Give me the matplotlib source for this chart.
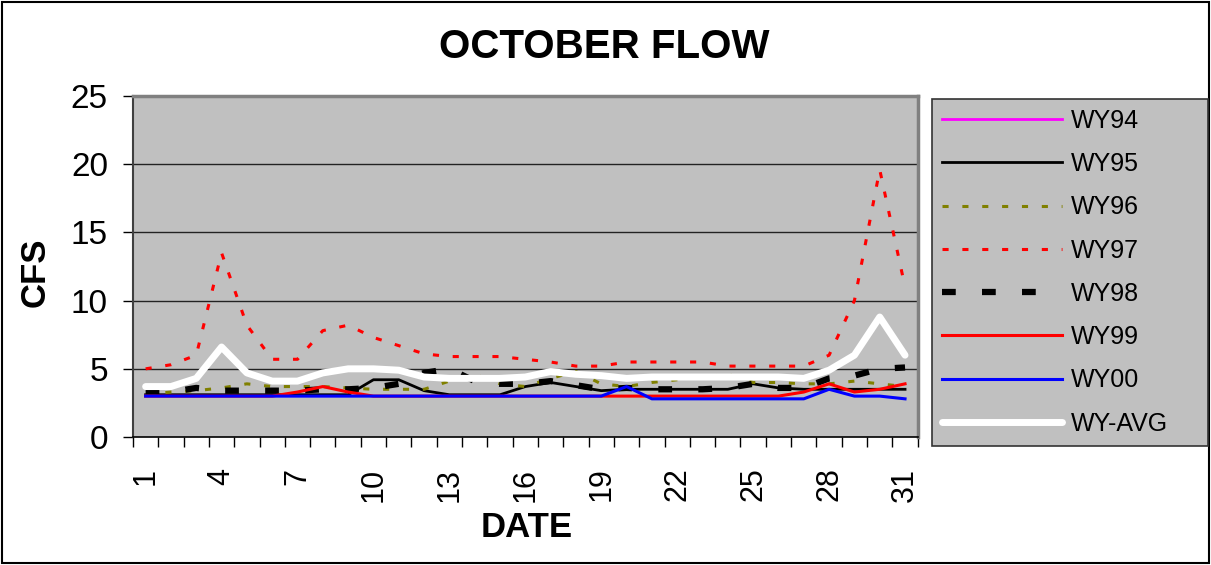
import matplotlib
matplotlib.use('Agg')
import matplotlib.pyplot as plt
from matplotlib.patches import Rectangle

plt.rcParams['font.family'] = ['Liberation Sans', 'DejaVu Sans']

days = list(range(1, 32))
tick_days = [1, 4, 7, 10, 13, 16, 19, 22, 25, 28, 31]

# WY94 has no values on the chart, only a legend entry
wy94 = []
wy95 = [3.1, 3.1, 3.1, 3.1, 3.1, 3.1, 3.1, 3.1, 3.1, 4.2, 4.2, 3.4, 3.1, 3.1, 3.1, 3.7,
        4.0, 3.7, 3.4, 3.5, 3.5, 3.5, 3.5, 3.5, 3.9, 3.6, 3.5, 3.5, 3.5, 3.5, 3.5]
wy96 = [3.1, 3.3, 3.4, 3.6, 3.9, 3.7, 3.7, 3.7, 3.6, 3.5, 3.5, 3.5, 4.1, 4.6, 3.9, 3.7,
        4.3, 4.8, 3.9, 3.7, 4.0, 4.2, 4.4, 4.6, 4.0, 4.0, 3.9, 3.9, 4.1, 3.9, 3.7]
wy97 = [5.0, 5.3, 6.0, 13.5, 8.2, 5.7, 5.7, 7.8, 8.2, 7.3, 6.7, 6.1, 5.9, 5.9, 5.9, 5.7,
        5.5, 5.2, 5.2, 5.5, 5.5, 5.5, 5.5, 5.2, 5.2, 5.2, 5.2, 6.0, 10.0, 19.6, 11.0]
wy98 = [3.3, 3.3, 3.6, 3.4, 3.4, 3.4, 3.4, 3.5, 3.5, 3.6, 3.9, 4.7, 5.0, 4.1, 3.9, 3.9,
        4.1, 3.8, 3.5, 3.6, 3.5, 3.5, 3.5, 3.6, 3.9, 3.6, 3.6, 4.3, 4.5, 5.0, 5.1]
wy99 = [3.0, 3.0, 3.0, 3.0, 3.0, 3.0, 3.3, 3.7, 3.3, 3.0, 3.0, 3.0, 3.0, 3.0, 3.0, 3.0,
        3.0, 3.0, 3.0, 3.0, 3.0, 3.0, 3.0, 3.0, 3.0, 3.0, 3.3, 3.9, 3.3, 3.5, 3.9]
wy00 = [3.0, 3.0, 3.0, 3.0, 3.0, 3.0, 3.0, 3.0, 3.0, 3.0, 3.0, 3.0, 3.0, 3.0, 3.0, 3.0,
        3.0, 3.0, 3.0, 3.7, 2.8, 2.8, 2.8, 2.8, 2.8, 2.8, 2.8, 3.5, 3.0, 3.0, 2.8]
wyavg = [3.7, 3.7, 4.3, 6.6, 4.7, 4.1, 4.1, 4.7, 5.0, 5.0, 4.9, 4.4, 4.3, 4.3, 4.3, 4.4,
         4.8, 4.6, 4.5, 4.3, 4.4, 4.4, 4.4, 4.4, 4.4, 4.4, 4.3, 4.9, 6.0, 8.8, 6.0]

fig = plt.figure(figsize=(12.11, 5.65), dpi=100)
fig.patches.append(Rectangle((0.002, 0.003), 0.996, 0.994, transform=fig.transFigure,
                             fill=False, edgecolor='black', linewidth=1.5))

ax = fig.add_axes([0.1098, 0.2265, 0.648, 0.6035])
ax.set_facecolor('#C0C0C0')

ax.plot(wy94, wy94, color='#FF00FF', lw=2.0, label='WY94')
ax.plot(days, wy95, color='black', lw=2.0, label='WY95')
ax.plot(days, wy96, color='#808000', lw=2.2, dashes=(2, 4.5), label='WY96')
ax.plot(days, wy97, color='#FF0000', lw=2.2, dashes=(2, 4.5), label='WY97')
ax.plot(days, wy98, color='black', lw=4.5, dashes=(2.2, 4.2), label='WY98')
ax.plot(days, wy99, color='#FF0000', lw=2.2, label='WY99')
ax.plot(days, wy00, color='#0000FF', lw=2.2, label='WY00')
ax.plot(days, wyavg, color='white', lw=5.0, label='WY-AVG', solid_capstyle='round')

ax.set_xlim(0.5, 31.5)
ax.set_ylim(0, 25)
ax.set_yticks([0, 5, 10, 15, 20, 25])
for y in [5, 10, 15, 20]:
    ax.axhline(y, color='#222222', lw=1.0, zorder=0.5)

ax.set_xticks(tick_days)
ax.set_xticklabels([str(d) for d in tick_days], rotation=90, fontsize=22)
ax.set_xticks([d + 0.5 for d in range(0, 32)], minor=True)
ax.tick_params(axis='x', which='major', length=0, pad=22)
ax.tick_params(axis='x', which='minor', length=7, width=1, direction='out')
ax.tick_params(axis='y', length=7, width=1, direction='out', pad=11, labelsize=24)
for lab in ax.get_xticklabels():
    lab.set_verticalalignment('top')

for side in ['top', 'right']:
    ax.spines[side].set_color('#808080')
    ax.spines[side].set_linewidth(2.5)
ax.spines['left'].set_color('#404040')
ax.spines['left'].set_linewidth(1.5)
ax.spines['bottom'].set_color('black')
ax.spines['bottom'].set_linewidth(1.2)

fig.text(0.499, 0.916, 'OCTOBER FLOW', ha='center', va='center', fontsize=29, fontweight='bold')
fig.text(0.029, 0.519, 'CFS', ha='center', va='center', rotation=90, fontsize=25, fontweight='bold')
fig.text(0.435, 0.0655, 'DATE', ha='center', va='center', fontsize=25, fontweight='bold')

leg = fig.legend(loc='upper left', bbox_to_anchor=(0.7696, 0.8248, 0.228, 0.0), mode='expand',
                 fontsize=18, frameon=True, fancybox=False, handlelength=4.8, handletextpad=0.35,
                 labelspacing=0.77, borderpad=0.4, borderaxespad=0)
leg.get_frame().set_facecolor('#C0C0C0')
leg.get_frame().set_edgecolor('#333333')
leg.get_frame().set_linewidth(1.2)
leg.get_frame().set_alpha(1)

fig.savefig('out.png', dpi=100)
